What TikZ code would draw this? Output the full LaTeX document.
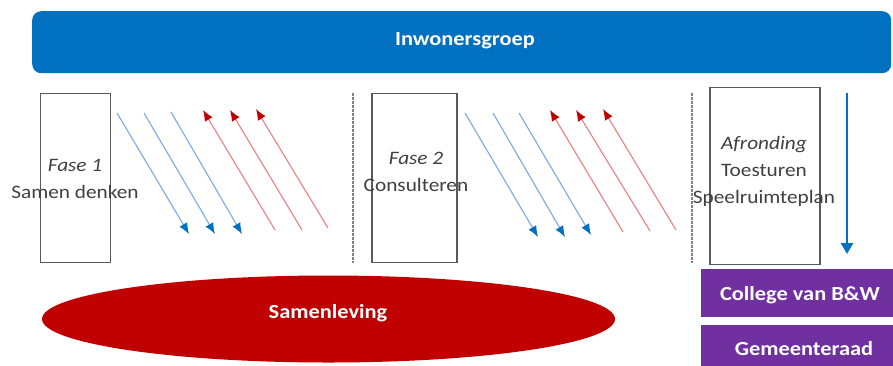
\documentclass[tikz,border=0pt]{standalone}
\usepackage{fontspec}
\setmainfont{Carlito}[FakeStretch=1.12]
\usetikzlibrary{arrows.meta,shapes.geometric}
\definecolor{barblue}{HTML}{0070C0}
\definecolor{lineblue}{HTML}{7AAAE0}
\definecolor{linered}{HTML}{E88080}
\definecolor{headred}{HTML}{C00000}
\definecolor{ellred}{HTML}{C00000}
\definecolor{purp}{HTML}{7030A0}
\definecolor{boxgray}{HTML}{595959}
\definecolor{txtgray}{HTML}{404040}
\tikzset{
  phasebox/.style={draw=boxgray, line width=1.4pt, fill=white},
  phasetext/.style={text=txtgray, align=center, font=\fontsize{19}{27}\selectfont},
  boldwhite/.style={text=white, font=\fontsize{20}{24}\selectfont\bfseries},
  sep/.style={draw=gray, dashed, dash pattern=on 2.5pt off 1.5pt, line width=1.2pt},
  bluearr/.style={draw=lineblue, line width=1.1pt, -{Latex[length=11pt,width=9pt,color=barblue]}},
  redarr/.style={draw=linered, line width=1.1pt, -{Latex[length=11pt,width=9pt,color=headred]}},
  purpbox/.style={fill=purp, draw=none},
}
\begin{document}
\begin{tikzpicture}[x=1pt,y=-1pt]
\clip (0,0) rectangle (893,365);
\fill[white] (0,0) rectangle (893,365);
% top bar
\node[fill=barblue, rounded corners=9pt, minimum width=859pt, minimum height=62pt, inner sep=0, anchor=north west] (bar) at (32,11) {};
\node[boldwhite] (bartext) at (465,41) {Inwonersgroep};
% separators
\coordinate (s1t) at (353,93); \coordinate (s1b) at (353,263);
\coordinate (s2t) at (692,93); \coordinate (s2b) at (692,263);
\draw[sep] (s1t) -- (s1b);
\draw[sep] (s2t) -- (s2b);
% boxes
\node[phasebox, minimum width=70pt, minimum height=169pt, inner sep=0] (b1) at (75.5,178) {};
\node[phasetext] (t1) at (75,179) {\textit{Fase 1}\\Samen denken};
\node[phasebox, minimum width=85pt, minimum height=169pt, inner sep=0] (b2) at (414.5,178) {};
\node[phasetext] (t2) at (416,172) {\textit{Fase 2}\\Consulteren};
\node[phasebox, minimum width=110pt, minimum height=177pt, inner sep=0] (b3) at (765,176) {};
\node[phasetext] (t3) at (764,171) {\textit{Afronding}\\Toesturen\\Speelruimteplan};
% diagonal arrows set 1
\coordinate (a1s) at (117,113); \coordinate (a1e) at (189,234);
\coordinate (a2s) at (144,113); \coordinate (a2e) at (215,234);
\coordinate (a3s) at (171,112); \coordinate (a3e) at (242,234);
\draw[bluearr] (a1s) -- (a1e);
\draw[bluearr] (a2s) -- (a2e);
\draw[bluearr] (a3s) -- (a3e);
\coordinate (r1s) at (275,230); \coordinate (r1e) at (203,110);
\coordinate (r2s) at (302,230); \coordinate (r2e) at (230,110);
\coordinate (r3s) at (328,228); \coordinate (r3e) at (256,109);
\draw[redarr] (r1s) -- (r1e);
\draw[redarr] (r2s) -- (r2e);
\draw[redarr] (r3s) -- (r3e);
% diagonal arrows set 2
\coordinate (b1s) at (465,113); \coordinate (b1e) at (538,237);
\coordinate (b2s) at (493,113); \coordinate (b2e) at (565,237);
\coordinate (b3s) at (519,113); \coordinate (b3e) at (591,235);
\draw[bluearr] (b1s) -- (b1e);
\draw[bluearr] (b2s) -- (b2e);
\draw[bluearr] (b3s) -- (b3e);
\coordinate (q1s) at (623,232); \coordinate (q1e) at (550,110);
\coordinate (q2s) at (650,231); \coordinate (q2e) at (576,110);
\coordinate (q3s) at (676,230); \coordinate (q3e) at (603,109);
\draw[redarr] (q1s) -- (q1e);
\draw[redarr] (q2s) -- (q2e);
\draw[redarr] (q3s) -- (q3e);
% vertical arrow
\coordinate (vt) at (847,93); \coordinate (vb) at (847,254);
\draw[draw=barblue, line width=2.6pt, -{Triangle[length=11pt,width=12pt]}] (vt) -- (vb);
% purple boxes
\node[purpbox, minimum width=195pt, minimum height=48pt, inner sep=0, anchor=north west] (p1) at (701,269) {};
\node[boldwhite] (p1t) at (800,295) {College van B\&W};
\node[purpbox, minimum width=195pt, minimum height=48pt, inner sep=0, anchor=north west] (p2) at (701,325) {};
\node[boldwhite] (p2t) at (804,349) {Gemeenteraad};
% ellipse
\node[ellipse, fill=ellred, minimum width=573pt, minimum height=87pt, inner sep=0] (ell) at (328.5,319) {};
\node[boldwhite] (ellt) at (328,313) {Samenleving};
\end{tikzpicture}
\end{document}
